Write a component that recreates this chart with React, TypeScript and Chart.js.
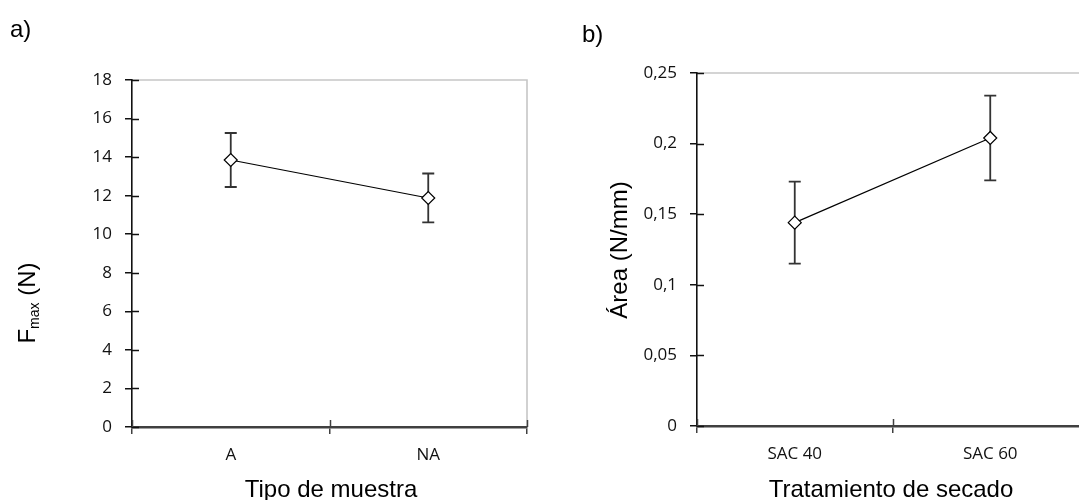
import React, { useEffect, useRef } from "react";
import { Chart, registerables } from "chart.js";

Chart.register(...registerables);

// Panel a) – maximum force by sample type
const tipoMuestra = ["A", "NA"];
const fmaxMedia = [13.85, 11.88];
const fmaxError = [1.4, 1.27];
const fmaxMin = 0;
const fmaxMax = 18;
const fmaxStep = 2;

// Panel b) – area by drying treatment
const tratamiento = ["SAC 40", "SAC 60"];
const areaMedia = [0.144, 0.204];
const areaError = [0.029, 0.03];
const areaTickLabels = ["0", "0,05", "0,1", "0,15", "0,2", "0,25"];
const areaStep = 0.05;

const TITLE_FONT = '"Liberation Sans", Arial, sans-serif';
const TICK_FONT = '"Open Sans", "Noto Sans", sans-serif';

type Part = { text: string; size: number; shift?: number };
type Caption = { parts: Part[]; x: number; y: number; rotate?: boolean; align?: "left" | "center" };

// Light grey frame along the top and right of the plot area,
// plus the inner half of the tick marks that cross the axis lines
const framePlugin = {
  id: "frame",
  beforeDraw(chart: any) {
    const { ctx, chartArea } = chart;
    ctx.save();
    ctx.strokeStyle = "#c6c6c6";
    ctx.lineWidth = 1.6;
    ctx.beginPath();
    ctx.moveTo(chartArea.left, chartArea.top);
    ctx.lineTo(chartArea.right, chartArea.top);
    ctx.lineTo(chartArea.right, chartArea.bottom);
    ctx.stroke();
    ctx.restore();
  },
  beforeDatasetsDraw(chart: any) {
    const { ctx, chartArea } = chart;
    const xs = chart.scales.x;
    const ys = chart.scales.y;
    const len = 7;
    ctx.save();
    ctx.strokeStyle = "#111";
    ctx.lineWidth = 1.5;
    ys.ticks.forEach((_t: any, i: number) => {
      const y = Math.round(ys.getPixelForTick(i)) + 0.5;
      ctx.beginPath();
      ctx.moveTo(chartArea.left, y);
      ctx.lineTo(chartArea.left + len, y);
      ctx.stroke();
    });
    ctx.strokeStyle = "#404040";
    const n = xs.ticks.length;
    for (let i = 0; i <= n; i++) {
      const x = Math.round(xs.left + (i * (xs.right - xs.left)) / n) + 0.5;
      ctx.beginPath();
      ctx.moveTo(x, chartArea.bottom);
      ctx.lineTo(x, chartArea.bottom - len);
      ctx.stroke();
    }
    ctx.restore();
  },
};

// Vertical error bars with caps around each mean
function makeErrorBarPlugin(errors: number[]) {
  return {
    id: "errorBars",
    beforeDatasetsDraw(chart: any) {
      const ctx = chart.ctx;
      const xs = chart.scales.x;
      const ys = chart.scales.y;
      const values: number[] = chart.data.datasets[0].data;
      ctx.save();
      ctx.strokeStyle = "#333";
      ctx.lineWidth = 1.8;
      values.forEach((v, i) => {
        const e = errors[i] ?? 0;
        const x = xs.getPixelForValue(i);
        const yTop = ys.getPixelForValue(v + e);
        const yBot = ys.getPixelForValue(v - e);
        const cap = 6;
        ctx.beginPath();
        ctx.moveTo(x, yTop);
        ctx.lineTo(x, yBot);
        ctx.moveTo(x - cap, yTop);
        ctx.lineTo(x + cap, yTop);
        ctx.moveTo(x - cap, yBot);
        ctx.lineTo(x + cap, yBot);
        ctx.stroke();
      });
      ctx.restore();
    },
  };
}

// Axis titles and panel letters (supports a subscript part)
function makeCaptionPlugin(items: Caption[]) {
  return {
    id: "captions",
    afterDraw(chart: any) {
      const ctx = chart.ctx;
      items.forEach((c) => {
        ctx.save();
        ctx.translate(c.x, c.y);
        if (c.rotate) ctx.rotate(-Math.PI / 2);
        ctx.fillStyle = "#000";
        ctx.textBaseline = "alphabetic";
        ctx.textAlign = "left";
        const widths = c.parts.map((p) => {
          ctx.font = `${p.size}px ${TITLE_FONT}`;
          return ctx.measureText(p.text).width;
        });
        const total = widths.reduce((a, b) => a + b, 0);
        let x = c.align === "left" ? 0 : -total / 2;
        c.parts.forEach((p, i) => {
          ctx.font = `${p.size}px ${TITLE_FONT}`;
          ctx.fillText(p.text, x, Number(p.shift) || 0);
          x += widths[i];
        });
        ctx.restore();
      });
    },
  };
}

type PanelProps = {
  labels: string[];
  values: number[];
  errors: number[];
  yMin: number;
  yMax: number;
  yStep: number;
  yTickLabels?: string[];
  padding: { top: number; right: number; bottom: number; left: number };
  yAxisWidth: number;
  xAxisHeight: number;
  captions: Caption[];
  left: number;
  width: number;
};

function Panel(props: PanelProps) {
  const ref = useRef<HTMLCanvasElement | null>(null);

  useEffect(() => {
    if (!ref.current) return;
    const chart = new Chart(ref.current, {
      type: "line",
      data: {
        labels: props.labels,
        datasets: [
          {
            data: props.values,
            borderColor: "#000",
            borderWidth: 1.2,
            pointStyle: "rectRot",
            pointRadius: 6.5,
            pointBackgroundColor: "#fff",
            pointBorderColor: "#000",
            pointBorderWidth: 1.2,
            tension: 0,
          },
        ],
      },
      options: {
        responsive: false,
        animation: false,
        events: [],
        layout: { padding: props.padding },
        plugins: {
          legend: { display: false },
          tooltip: { enabled: false },
        },
        scales: {
          x: {
            type: "category",
            offset: true,
            afterFit: (s: any) => {
              s.height = props.xAxisHeight;
            },
            grid: {
              offset: true,
              drawOnChartArea: false,
              tickLength: 7,
              color: "#404040",
              lineWidth: 1.5,
            },
            border: { color: "#404040", width: 2.5 },
            ticks: {
              color: "#111",
              font: { family: TICK_FONT, size: 17 },
              padding: 11,
              maxRotation: 0,
            },
          },
          y: {
            min: props.yMin,
            max: props.yMax,
            afterFit: (s: any) => {
              s.width = props.yAxisWidth;
            },
            grid: {
              drawOnChartArea: false,
              tickLength: 7,
              color: "#111",
              lineWidth: 1.5,
            },
            border: { color: "#111", width: 1.6 },
            ticks: {
              stepSize: props.yStep,
              color: "#111",
              font: { family: TICK_FONT, size: 17 },
              padding: 13,
              callback: (v: any, i: number) =>
                props.yTickLabels ? props.yTickLabels[i] : String(v),
            },
          },
        },
      },
      plugins: [framePlugin, makeErrorBarPlugin(props.errors), makeCaptionPlugin(props.captions)],
    });
    return () => chart.destroy();
  }, []);

  return (
    <canvas
      ref={ref}
      width={props.width}
      height={500}
      style={{ position: "absolute", left: props.left, top: 0, width: props.width, height: 500 }}
    />
  );
}

export default function App() {
  return (
    <div
      style={{
        position: "absolute",
        left: 0,
        top: 0,
        width: 1079,
        height: 500,
        overflow: "hidden",
        background: "#fff",
      }}
    >
      <Panel
        labels={tipoMuestra}
        values={fmaxMedia}
        errors={fmaxError}
        yMin={fmaxMin}
        yMax={fmaxMax}
        yStep={fmaxStep}
        padding={{ top: 80, right: 33, bottom: 0, left: 0 }}
        yAxisWidth={132}
        xAxisHeight={73}
        left={0}
        width={560}
        captions={[
          { parts: [{ text: "a)", size: 24 }], x: 10, y: 37, align: "left" },
          {
            parts: [
              { text: "F", size: 24 },
              { text: "max", size: 14, shift: 4 },
              { text: " (N)", size: 24 },
            ],
            x: 35,
            y: 303,
            rotate: true,
          },
          { parts: [{ text: "Tipo de muestra", size: 24 }], x: 331, y: 497 },
        ]}
      />
      <Panel
        labels={tratamiento}
        values={areaMedia}
        errors={areaError}
        yMin={0}
        yMax={0.25}
        yStep={areaStep}
        yTickLabels={areaTickLabels}
        padding={{ top: 73, right: 32, bottom: 0, left: 0 }}
        yAxisWidth={137}
        xAxisHeight={74}
        left={560}
        width={560}
        captions={[
          { parts: [{ text: "b)", size: 24 }], x: 22, y: 42, align: "left" },
          { parts: [{ text: "Área (N/mm)", size: 24 }], x: 67, y: 250, rotate: true },
          { parts: [{ text: "Tratamiento de secado", size: 24 }], x: 331, y: 497 },
        ]}
      />
    </div>
  );
}
